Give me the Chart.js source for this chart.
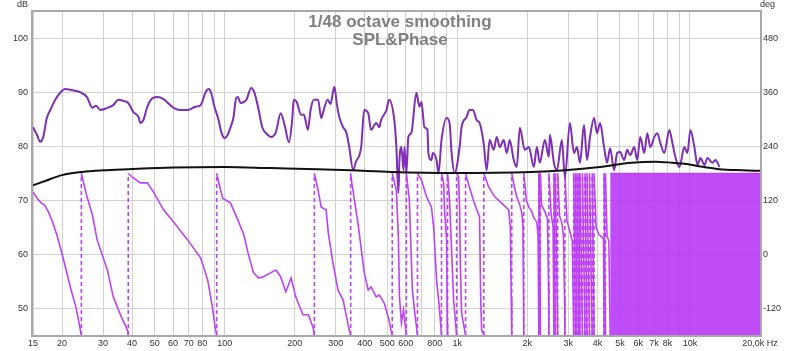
<!DOCTYPE html>
<html>
<head>
<meta charset="utf-8">
<script src="https://cdn.jsdelivr.net/npm/chart.js@4.4.0/dist/chart.umd.min.js"></script>
<style>
  html, body { margin: 0; padding: 0; background: #fff; }
  #wrap { width: 800px; height: 351px; }
</style>
</head>
<body>
<div id="wrap"><canvas id="splChart"></canvas></div>
<script>
// SPL trace (dB, left axis)
const splHz = [15, 15.6, 16.1, 16.6, 17.2, 17.8, 18.7, 19.7, 20.6, 22.0, 23.9, 25.6, 27.0, 28.0, 29.2, 31.3, 33.2, 34.9, 36.6, 38.5,
  40.5, 42.6, 43.4, 44.7, 46.5, 49, 51.4, 54.6, 60.3, 64.5, 69.3, 74.8, 78.8, 82.8, 85.3, 87.5, 90, 94.2, 97, 100,
  103, 106, 109, 112, 114, 117, 124, 130, 134, 140, 145, 153, 158, 166, 174, 181, 189, 195, 198, 204,
  213, 219, 228, 234, 242, 252, 260, 263, 277, 285, 296, 304, 311, 323, 334, 343, 357, 366, 386, 398,
  414, 426, 448, 462, 470, 496, 509, 536, 547, 558, 564, 575, 587, 593, 604, 616, 634, 667, 687, 701,
  722, 744, 751, 774, 785, 814, 830, 855, 899, 926, 945, 973, 1023, 1043, 1096, 1127, 1168, 1211, 1246, 1297,
  1337, 1377, 1434, 1477, 1521, 1583, 1631, 1680, 1748, 1801, 1856, 1950, 2029, 2133, 2196, 2262, 2378, 2475, 2500, 2601,
  2680, 2815, 2900, 3048, 3172, 3268, 3367, 3504, 3610, 3720, 3870, 3987, 4108, 4273, 4403, 4536, 4720, 4863, 5011, 5213,
  5371, 5534, 5758, 5934, 6111, 6361, 6553, 6751, 7026, 7238, 7457, 7758, 8153, 8400, 8652, 9003, 9461, 9747, 10043, 10449,
  10767, 11093, 11543, 11892, 12498, 12876, 13397];
const splDb = [83.6, 82.2, 80.9, 81.8, 85.3, 86.8, 88.7, 90.1, 90.7, 90.5, 90.1, 89.2, 87.2, 87.6, 86.8, 87.2, 87.7, 88.7, 88.5, 88.1,
  86.4, 85.5, 84.4, 84.9, 87.4, 89.0, 89.2, 88.8, 87.2, 86.8, 86.8, 87.4, 87.7, 90.1, 90.7, 90.0, 87.7, 84.9, 82.5, 81.6,
  82.2, 83.6, 85.3, 89.0, 89.2, 88.1, 88.7, 90.9, 90.1, 86.8, 83.6, 82.2, 81.8, 82.7, 86.2, 84.0, 80.8, 84.9, 88.7, 88.3,
  85.9, 85.9, 83.1, 86.8, 88.7, 88.7, 85.3, 85.9, 88.7, 87.9, 91.1, 87.7, 85.5, 83.6, 82.5, 79.9, 75.6, 77.1, 79.9, 86.8,
  86.2, 83.1, 84.4, 83.6, 84.9, 86.8, 88.7, 84.9, 79.9, 71.4, 77.5, 79.9, 75.6, 79.9, 75.1, 81.8, 82.5, 90.0, 87.4, 88.3,
  83.6, 83.1, 78.8, 77.5, 78.8, 77.5, 75.1, 81.2, 85.3, 84.4, 78.8, 75.1, 79.9, 83.6, 85.5, 86.8, 86.8, 84.9, 84.4, 80.7,
  75.6, 81.2, 79.4, 81.8, 79.9, 81.2, 78.8, 81.2, 77.5, 76.2, 83.5, 79.4, 79.9, 76.2, 79.9, 77.0, 81.2, 78.1, 82.2, 77.0,
  75.6, 81.2, 74.3, 84.4, 78.8, 79.9, 77.0, 84.0, 77.5, 81.8, 85.3, 82.5, 84.4, 79.9, 77.0, 79.7, 75.6, 78.8, 79.0, 77.5,
  79.4, 78.4, 79.9, 77.5, 81.8, 78.8, 82.5, 79.9, 81.8, 82.5, 80.7, 78.8, 83.1, 80.7, 78.1, 76.2, 79.9, 78.8, 83.1, 79.9,
  76.6, 77.9, 76.6, 77.9, 77.0, 77.5, 76.2];

// Wrapped phase trace (deg, right axis); a repeated frequency marks a wrap
const phaseHz = [15, 15.6, 16.3, 16.8, 17.5, 18.2, 19.0, 20, 21.7, 23, 24.2,
  24.2, 25.6, 27, 28.3, 31.3, 33.2, 35.5, 38.2, 38.5,
  38.5, 40.5, 43.4, 46.5, 49.4, 54.6, 60.3, 69.3, 78.8, 84.5, 88, 91, 92.4,
  92.4, 94.2, 98, 106, 114, 121, 126, 133, 140, 147, 158, 166, 174, 183, 193, 202, 217, 229, 240, 243,
  243, 252, 260, 273, 279, 292, 307, 323, 343, 348,
  348, 352, 375, 398, 414, 426, 448, 462, 485, 509, 520, 525,
  525, 547, 558, 564, 575, 587, 604,
  604, 622, 641, 654, 674,
  674, 701, 737, 774, 792, 814, 837, 855,
  855, 873, 881, 899, 906, 908,
  908, 926, 945, 964, 993,
  993, 1013, 1023, 1030, 1043, 1075, 1085,
  1085, 1127, 1183, 1246, 1260, 1272, 1300,
  1300, 1363, 1448, 1551, 1663, 1690, 1705, 1714,
  1714, 1760, 1801, 1856, 1893, 1915, 1931,
  1931, 1980, 2029, 2090, 2133, 2196, 2225, 2240,
  2240, 2255,
  2255, 2275,
  2275, 2300, 2378, 2440, 2465, 2475,
  2475, 2530, 2580, 2601,
  2601, 2640,
  2640, 2700,
  2700, 2750, 2815, 2860, 2890, 2900,
  2900, 2960, 3048, 3120, 3165,
  3165, 3220,
  3220, 3268,
  3268, 3330,
  3330, 3367,
  3367, 3450,
  3450, 3539,
  3539, 3610,
  3610, 3700,
  3700, 3800,
  3800, 3870,
  3870, 3950, 4050, 4150, 4250, 4273,
  4273, 4330,
  4330, 4403, 4480, 4540];
const phaseDeg = [139, 125, 114, 110, 94, 72, 43, 1, -73, -120, -180,
  180, 128, 88, 32, -35, -95, -133, -169, -180,
  180, 170, 159, 159, 139, 99, 72, 32, -8, -57, -109, -162, -180,
  180, 161, 125, 114, 76, 43, 3, -41, -53, -50, -41, -35, -50, -84, -53, -95, -135, -135, -164, -180,
  180, 143, 105, 99, 47, -19, -80, -102, -169, -180,
  180, 159, 65, -41, -80, -73, -95, -91, -109, -147, -173, -180,
  180, 143, 38, -95, -153, -124, -180,
  180, 121, -80, -124, -180,
  180, 166, 128, 105, 58, -57, -118, -180,
  180, 159, 99, 32, -153, -180,
  180, 121, 9, -102, -180,
  180, 172, 99, -19, -131, -169, -180,
  180, 150, 114, 83, -95, -169, -180,
  180, 150, 128, 114, 99, 60, -100, -180,
  180, 150, 128, 110, 92, 60, -180,
  180, 120, 105, 95, 81, 72, 40, -180,
  180, -180,
  180, -180,
  180, 110, 95, 80, -60, -180,
  180, 90, 60, -180,
  180, -180,
  180, -180,
  180, 85, 70, 40, -100, -180,
  180, 75, 50, 30, -180,
  180, -180,
  180, -180,
  180, -180,
  180, -180,
  180, -180,
  180, -180,
  180, -180,
  180, -180,
  180, -180,
  180, -180,
  180, 60, 45, 40, 35, -180,
  180, -180,
  180, 40, 30, -180];

// above ~4.5 kHz the phase wraps so fast it fills the whole band
const bandHz = [4540, 20000];
const bandDeg = [180, 180];

// smooth black reference trace (dB)
const refHz = [15, 16.9, 20, 24.4, 30, 38.5, 60, 100, 158, 250, 348, 520, 945, 2090, 2900, 4100, 5600, 7100, 8400, 9500, 11500, 13400, 16800, 20000];
const refDb = [72.8, 73.6, 74.7, 75.3, 75.6, 75.8, 76.1, 76.2, 76.0, 75.8, 75.6, 75.3, 75.1, 75.3, 75.6, 76.2, 77.0, 77.2, 77.0, 76.8, 76.2, 75.8, 75.6, 75.5];

// axes
const xGridHz = [15, 20, 30, 40, 50, 60, 70, 80, 90, 100, 200, 300, 400, 500, 600, 700, 800, 900,
  1000, 2000, 3000, 4000, 5000, 6000, 7000, 8000, 9000, 10000, 20000];
const xLabelHz = [15, 20, 30, 40, 50, 60, 70, 80, 100, 200, 300, 400, 500, 600, 800, 1000, 2000, 3000, 4000, 5000, 6000, 7000, 8000, 10000, 20000];
const xLabelText = ['15', '20', '30', '40', '50', '60', '70', '80', '100', '200', '300', '400', '500', '600', '800', '1k', '2k', '3k', '4k', '5k', '6k', '7k', '8k', '10k', '20,0k Hz'];
const dbTicks = [50, 60, 70, 80, 90, 100];
const degTicks = [-120, 0, 120, 240, 360, 480];

const splColor = '#7f2fb5';
const phaseColor = '#bd42f7';
const gridColor = '#d2d2d2';
const tickFont = { family: '"Liberation Sans", Arial, sans-serif', size: 9 };

function pairs(xs, ys) {
    return xs.map(function (x, i) { return { x: x, y: ys[i] }; });
}

// frame, titles and unit labels
const decorPlugin = {
    id: 'decor',
    afterDraw: function (chart) {
        const ctx = chart.ctx;
        const a = chart.chartArea;
        ctx.save();
        ctx.strokeStyle = '#a8a8a8';
        ctx.lineWidth = 2;
        ctx.strokeRect(a.left - 1, a.top - 1, a.right - a.left + 2, a.bottom - a.top + 2);

        ctx.fillStyle = '#808080';
        ctx.font = 'bold 17px "Liberation Sans", Arial, sans-serif';
        ctx.textAlign = 'center';
        ctx.textBaseline = 'middle';
        ctx.fillText('1/48 octave smoothing', 400, 22);
        ctx.fillText('SPL&Phase', 400, 40);

        ctx.fillStyle = '#333';
        ctx.font = '9px "Liberation Sans", Arial, sans-serif';
        ctx.textAlign = 'right';
        ctx.fillText('dB', 28, 5);
        ctx.textAlign = 'left';
        ctx.fillText('deg', 760, 5);
        ctx.restore();
    }
};

new Chart(document.getElementById('splChart'), {
    type: 'line',
    data: {
        datasets: [{
            label: 'ref',
            data: pairs(refHz, refDb),
            yAxisID: 'y',
            borderColor: '#111',
            borderWidth: 2,
            pointRadius: 0,
            cubicInterpolationMode: 'monotone'
        }, {
            label: 'SPL',
            data: pairs(splHz, splDb),
            yAxisID: 'y',
            borderColor: splColor,
            borderWidth: 2,
            pointRadius: 0,
            cubicInterpolationMode: 'monotone'
        }, {
            label: 'Phase',
            data: pairs(phaseHz, phaseDeg),
            yAxisID: 'y1',
            borderColor: phaseColor,
            borderWidth: 1.6,
            pointRadius: 0,
            tension: 0,
            segment: {
                borderDash: function (ctx) {
                    return ctx.p1.parsed.y - ctx.p0.parsed.y > 300 ? [4, 3] : undefined;
                }
            }
        }, {
            label: 'Phase band',
            data: pairs(bandHz, bandDeg),
            yAxisID: 'y1',
            borderColor: phaseColor,
            borderWidth: 1.6,
            backgroundColor: 'rgba(189, 66, 247, 0.95)',
            fill: 'start',
            pointRadius: 0
        }]
    },
    options: {
        responsive: true,
        maintainAspectRatio: false,
        animation: false,
        layout: { padding: { top: 12, left: 0, right: 0, bottom: 0 } },
        plugins: {
            legend: { display: false },
            tooltip: { enabled: false }
        },
        scales: {
            x: {
                type: 'logarithmic',
                min: 15,
                max: 20000,
                afterBuildTicks: function (scale) {
                    scale.ticks = xGridHz.map(function (v) { return { value: v }; });
                },
                afterFit: function (scale) { scale.height = 16; },
                grid: { color: gridColor, drawTicks: false },
                border: { display: false },
                ticks: {
                    autoSkip: false,
                    maxRotation: 0,
                    padding: 3,
                    color: '#333',
                    font: tickFont,
                    callback: function (value) {
                        const i = xLabelHz.indexOf(value);
                        return i >= 0 ? xLabelText[i] : '';
                    }
                }
            },
            y: {
                position: 'left',
                min: 45,
                max: 105,
                afterBuildTicks: function (scale) {
                    scale.ticks = dbTicks.map(function (v) { return { value: v }; });
                },
                afterFit: function (scale) { scale.width = 33; },
                grid: { color: gridColor, drawTicks: false },
                border: { display: false },
                ticks: { padding: 5, color: '#333', font: tickFont }
            },
            y1: {
                position: 'right',
                min: -180,
                max: 540,
                afterBuildTicks: function (scale) {
                    scale.ticks = degTicks.map(function (v) { return { value: v }; });
                },
                afterFit: function (scale) { scale.width = 40; },
                grid: { display: false, drawTicks: false },
                border: { display: false },
                ticks: { padding: 3, color: '#333', font: tickFont }
            }
        }
    },
    plugins: [decorPlugin]
});
</script>
</body>
</html>
